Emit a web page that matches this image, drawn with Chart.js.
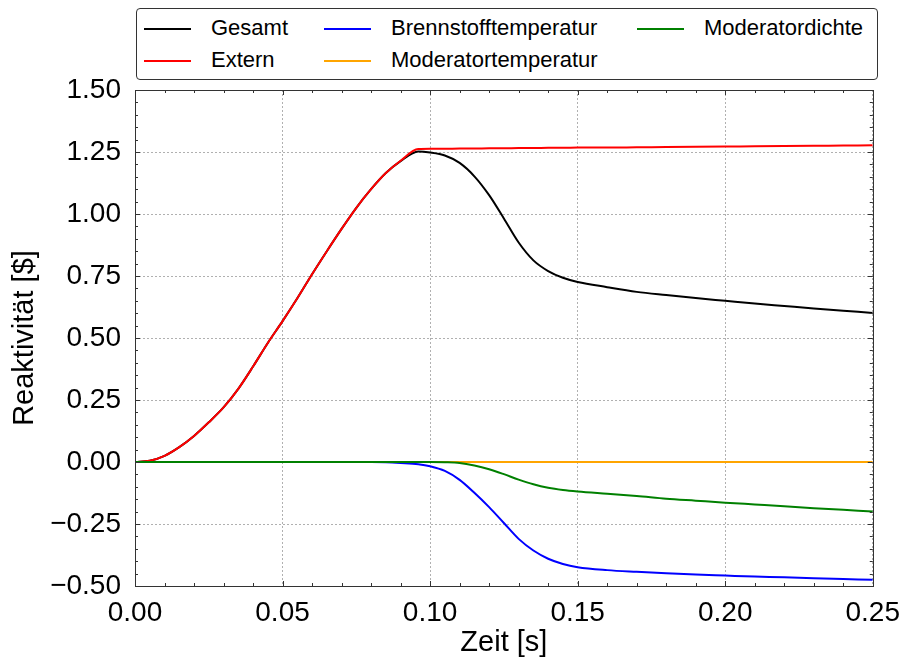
<!DOCTYPE html>
<html>
<head>
<meta charset="utf-8">
<title>Reaktivität</title>
<script src="https://cdn.jsdelivr.net/npm/chart.js@4.4.0/dist/chart.umd.min.js"></script>
<style>
    html, body { margin: 0; padding: 0; background: #fff; }
    #wrap { position: relative; width: 910px; height: 661px; }
    #legend {
        position: absolute; left: 136px; top: 8px; width: 740px; height: 70px;
        border: 1px solid #333; border-radius: 4px; background: #fff;
        font-family: "Liberation Sans", Arial, sans-serif; font-size: 22px; color: #000;
    }
    .item { position: absolute; height: 30px; line-height: 30px; white-space: nowrap; }
    .item .swatch { display: inline-block; width: 47px; height: 2px; vertical-align: middle; margin-right: 20px; }
</style>
</head>
<body>
<div id="wrap">
    <canvas id="chart" width="910" height="661"></canvas>
    <div id="legend"></div>
</div>
<script>
'use strict';

// time axis [s]
var zeit = [0, 0.005, 0.01, 0.015, 0.02, 0.025, 0.03, 0.035, 0.04, 0.045,
    0.05, 0.055, 0.06, 0.065, 0.07, 0.075, 0.08, 0.085, 0.09, 0.096,
    0.10, 0.105, 0.11, 0.115, 0.12, 0.125, 0.13, 0.135, 0.14, 0.145,
    0.15, 0.16, 0.17, 0.18, 0.19, 0.20, 0.21, 0.22, 0.23, 0.24, 0.25];

// reactivity [$] per series
var gesamt = [0, 0.005, 0.025, 0.06, 0.105, 0.16, 0.22, 0.295, 0.385, 0.48,
    0.568, 0.66, 0.757, 0.85, 0.94, 1.025, 1.10, 1.165, 1.213, 1.252,
    1.248, 1.236, 1.206, 1.152, 1.076, 0.982, 0.885, 0.813, 0.77, 0.743,
    0.726, 0.705, 0.686, 0.673, 0.661, 0.650, 0.639, 0.629, 0.619, 0.610, 0.601];

var extern = [0, 0.005, 0.025, 0.06, 0.105, 0.16, 0.22, 0.295, 0.385, 0.48,
    0.568, 0.66, 0.757, 0.85, 0.94, 1.025, 1.10, 1.165, 1.215, 1.262,
    1.263, 1.263, 1.264, 1.264, 1.265, 1.265, 1.266, 1.266, 1.267, 1.267,
    1.268, 1.268, 1.269, 1.270, 1.271, 1.272, 1.273, 1.274, 1.275, 1.276, 1.277];

var brennstoff = [0, 0, 0, 0, 0, 0, 0, 0, 0, 0,
    0, 0, 0, 0, 0, 0, 0, -0.001, -0.004, -0.009,
    -0.017, -0.036, -0.072, -0.124, -0.182, -0.246, -0.31, -0.357, -0.39, -0.411,
    -0.424, -0.436, -0.443, -0.449, -0.454, -0.458, -0.462, -0.465, -0.469, -0.472, -0.475];

var modTemp = [0, 0, 0, 0, 0, 0, 0, 0, 0, 0,
    0, 0, 0, 0, 0, 0, 0, 0, 0, 0,
    0, 0, 0, 0, 0, 0, 0, 0, 0, 0,
    0, 0, 0, 0, 0, 0, 0, 0, 0, 0, 0];

var modDichte = [0, 0, 0, 0, 0, 0, 0, 0, 0, 0,
    0, 0, 0, 0, 0, 0, 0, 0, 0, 0,
    0, -0.001, -0.004, -0.014, -0.029, -0.049, -0.071, -0.09, -0.104, -0.113,
    -0.119, -0.128, -0.137, -0.148, -0.156, -0.164, -0.171, -0.178, -0.186, -0.193, -0.20];

var seriesNames = ['Gesamt', 'Extern', 'Brennstofftemperatur', 'Moderatortemperatur', 'Moderatordichte'];
var seriesColors = ['#000000', '#ff0000', '#0000ff', '#ffa500', '#008000'];
var seriesValues = [gesamt, extern, brennstoff, modTemp, modDichte];

var xTicks = [0, 0.25, 0.05, 0.01];    // min, max, major step, minor step
var yTicks = [-0.5, 1.5, 0.25, 0.05];

var FONT = '"Liberation Sans", Arial, sans-serif';

function toPoints(values) {
    var pts = [];
    for (var i = 0; i < zeit.length; i++) {
        pts.push({x: zeit[i], y: values[i]});
    }
    return pts;
}

function fmt(v) {
    return v.toFixed(2).replace('-', '\u2212');
}

var datasets = [];
for (var i = 0; i < seriesNames.length; i++) {
    datasets.push({
        label: seriesNames[i],
        data: toPoints(seriesValues[i]),
        borderColor: seriesColors[i],
        backgroundColor: seriesColors[i],
        borderWidth: 2,
        pointRadius: 0,
        fill: false,
        cubicInterpolationMode: 'monotone',
        order: seriesNames.length - i   // later series on top, like the original
    });
}

// frame + inward major/minor ticks on all four sides
var frameTicks = {
    id: 'frameTicks',
    afterDatasetsDraw: function(chart) {
        var ctx = chart.ctx;
        var a = chart.chartArea;
        var xs = chart.scales.x, ys = chart.scales.y;
        ctx.save();
        ctx.strokeStyle = '#333';
        ctx.lineWidth = 1;
        ctx.beginPath();

        var n, k, v, p, len;
        n = Math.round((xTicks[1] - xTicks[0]) / xTicks[3]);
        for (k = 0; k <= n; k++) {
            v = xTicks[0] + k * xTicks[3];
            p = Math.round(xs.getPixelForValue(v)) + 0.5;
            len = (k % Math.round(xTicks[2] / xTicks[3]) === 0) ? 5 : 3;
            ctx.moveTo(p, a.bottom); ctx.lineTo(p, a.bottom - len);
            ctx.moveTo(p, a.top); ctx.lineTo(p, a.top + len);
        }
        n = Math.round((yTicks[1] - yTicks[0]) / yTicks[3]);
        for (k = 0; k <= n; k++) {
            v = yTicks[0] + k * yTicks[3];
            p = Math.round(ys.getPixelForValue(v)) + 0.5;
            len = (k % Math.round(yTicks[2] / yTicks[3]) === 0) ? 5 : 3;
            ctx.moveTo(a.left, p); ctx.lineTo(a.left + len, p);
            ctx.moveTo(a.right, p); ctx.lineTo(a.right - len, p);
        }
        ctx.stroke();

        ctx.strokeRect(Math.round(a.left) + 0.5, Math.round(a.top) + 0.5,
            Math.round(a.right - a.left), Math.round(a.bottom - a.top));
        ctx.restore();
    }
};

var ctx = document.getElementById('chart').getContext('2d');
var chart = new Chart(ctx, {
    type: 'line',
    data: {datasets: datasets},
    options: {
        responsive: false,
        animation: false,
        layout: {padding: {top: 90, right: 31, bottom: 0, left: 0}},
        plugins: {
            legend: {display: false},
            tooltip: {enabled: false}
        },
        scales: {
            x: {
                type: 'linear',
                min: xTicks[0],
                max: xTicks[1],
                afterFit: function(scale) { scale.height = 75; },
                ticks: {
                    stepSize: xTicks[2],
                    padding: 10,
                    maxRotation: 0,
                    autoSkip: false,
                    color: '#000',
                    font: {family: FONT, size: 28},
                    callback: function(v) { return fmt(v); }
                },
                grid: {color: '#b0b0b0', lineWidth: 1, drawTicks: false},
                border: {display: false, dash: [2, 2]},
                title: {
                    display: true,
                    text: 'Zeit [s]',
                    color: '#000',
                    font: {family: FONT, size: 29},
                    padding: {top: 0, bottom: 1}
                }
            },
            y: {
                type: 'linear',
                min: yTicks[0],
                max: yTicks[1],
                afterFit: function(scale) { scale.width = 135; },
                ticks: {
                    stepSize: yTicks[2],
                    padding: 14,
                    color: '#000',
                    font: {family: FONT, size: 28},
                    callback: function(v) { return fmt(v); }
                },
                grid: {color: '#b0b0b0', lineWidth: 1, drawTicks: false},
                border: {display: false, dash: [2, 2]},
                title: {
                    display: true,
                    text: 'Reaktivität [$]',
                    color: '#000',
                    font: {family: FONT, size: 29},
                    padding: {top: 8, bottom: 0}
                }
            }
        }
    },
    plugins: [frameTicks]
});

// legend laid out column-wise like the original (2 rows x 3 columns)
var legendCols = [7, 187, 500];
var legendRows = [4, 36];
var legend = document.getElementById('legend');
chart.data.datasets.forEach(function(ds, idx) {
    var item = document.createElement('div');
    item.className = 'item';
    item.style.left = legendCols[Math.floor(idx / 2)] + 'px';
    item.style.top = legendRows[idx % 2] + 'px';
    var sw = document.createElement('span');
    sw.className = 'swatch';
    sw.style.background = ds.borderColor;
    item.appendChild(sw);
    item.appendChild(document.createTextNode(ds.label));
    legend.appendChild(item);
});
</script>
</body>
</html>
